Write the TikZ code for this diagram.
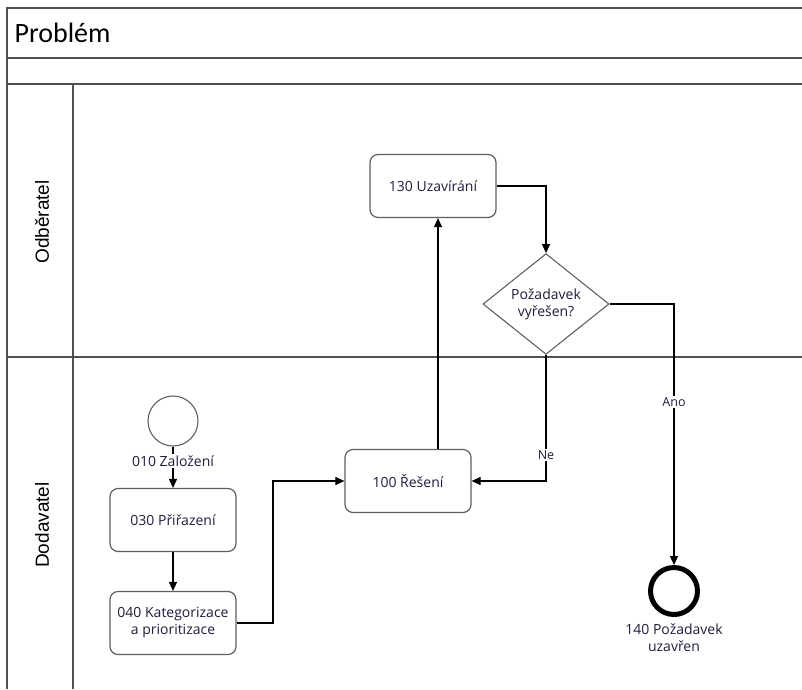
\documentclass[tikz,border=0pt]{standalone}
\usepackage{fontspec}
\setmainfont{Open Sans}
\newfontfamily\titlefont{Carlito}
\newfontfamily\lanefont{Liberation Sans}
\usetikzlibrary{shapes.geometric,arrows.meta}
\definecolor{frameline}{RGB}{80,80,80}
\definecolor{boxline}{RGB}{95,95,95}
\definecolor{txt}{RGB}{30,30,60}
\tikzset{
  frame/.style={draw=frameline,line width=1.4pt},
  task/.style={draw=boxline,line width=1.2pt,rounded corners=8pt,minimum width=126pt,minimum height=63pt,
    align=center,inner sep=2pt,text=txt,font=\fontsize{14}{17}\selectfont,fill=white},
  gate/.style={diamond,draw=boxline,line width=1.1pt,minimum width=126pt,minimum height=100pt,inner sep=0pt,
    align=center,text=txt,font=\fontsize{14}{17}\selectfont},
  lbl/.style={fill=white,inner sep=1.5pt,text=txt,font=\fontsize{14}{17}\selectfont,align=center},
  elbl/.style={fill=white,inner sep=1.5pt,text=txt,font=\fontsize{12.5}{15}\selectfont},
  arr/.style={draw=black,line width=1.1pt,-{Triangle[length=9pt,width=8pt]}},
  lane/.style={rotate=90,font=\lanefont\fontsize{19}{22}\selectfont,text=black},
}
\begin{document}
\begin{tikzpicture}[x=1pt,y=-1pt]
\useasboundingbox (0,0) rectangle (802,689);
\fill[white] (0,0) rectangle (802,689);
% pool frame
\draw[frame] (802,8) -- (7,8) -- (7,689);
\draw[frame] (7,58) -- (802,58);
\draw[frame] (7,84) -- (802,84);
\draw[frame] (7,357) -- (802,357);
\draw[frame] (73,84) -- (73,689);
\node[anchor=west,font=\titlefont\fontsize{28}{32}\selectfont,text=black] (title) at (11,33) {Problém};
\node[lane] (lodb) at (42,222) {Odběratel};
\node[lane] (ldod) at (42,525) {Dodavatel};
% nodes
\node[task] (uzav) at (433,186) {130 Uzavírání};
\node[gate,fill=white] (dia) at (546,304) {Požadavek\\vyřešen?};
\node[task] (res) at (408,481) {100 Řešení};
\node[circle,draw=boxline,line width=1.1pt,minimum size=50pt,inner sep=0pt] (start) at (173,421) {};
\node[task] (pri) at (173,520) {030 Přiřazení};
\node[task] (kat) at (173,623) {040 Kategorizace\\a prioritizace};
\node[circle,draw=black,line width=5pt,minimum size=47pt,inner sep=0pt] (end) at (674,591) {};
\node[lbl,fill=none] (endl) at (674,638) {140 Požadavek\\uzavřen};
% connectors
\draw[arr] (start) -- (pri);
\node[lbl] (startl) at (173,461) {010 Založení};
\draw[arr] (pri) -- (kat);
\coordinate (k1) at (273,623);
\draw[arr] (kat.east) -- (k1) |- (res.west);
\draw[arr] ([xshift=30pt]res.north) -- ([xshift=30pt]res.north |- uzav.south);
\draw[arr] (uzav.east) -| (dia.north);
\draw[arr] (dia.south) |- (res.east);
\draw[arr] (dia.east) -| (end.north);
\node[elbl] (ne) at (546,455) {Ne};
\node[elbl] (ano) at (674,402) {Ano};
\end{tikzpicture}
\end{document}
